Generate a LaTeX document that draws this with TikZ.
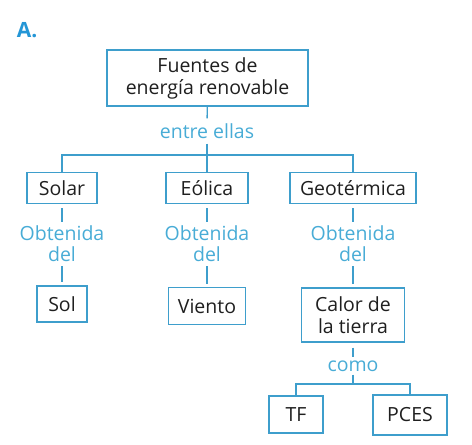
\documentclass[tikz,border=0pt]{standalone}
\usepackage{fontspec}
\setmainfont{Open Sans}
\usetikzlibrary{positioning}
\definecolor{mapB}{RGB}{62,158,204}
\definecolor{mapT}{RGB}{72,172,214}
\definecolor{mapA}{RGB}{36,150,214}

\begin{document}
\begin{tikzpicture}[x=1pt,y=-1pt,
  caja/.style={draw=mapB,line width=1.3pt,inner sep=0pt,align=center,text=black!88,font=\fontsize{19.5}{22}\selectfont},
  enlace/.style={text=mapT,inner sep=4pt,align=center,font=\fontsize{19.5}{21}\selectfont},
  linea/.style={mapB,line width=1.3pt}]
\useasboundingbox (0,0) rectangle (472,445);
\node[text=mapA,inner sep=0pt,font=\bfseries\fontsize{21}{21}\selectfont] (titulo) at (27,30) {A.};
% top box and first split
\node[caja,minimum width=201,minimum height=56] (fuentes) at (207.5,78) {Fuentes de\\energía renovable};
\node[enlace,inner sep=5pt] (entre) at (207,131) {entre ellas};
\coordinate (jA) at (207,155);
\node[caja,minimum width=70,minimum height=31] (solar) at (62,188) {Solar};
\node[caja,minimum width=82,minimum height=31] (eolica) at (207,188) {Eólica};
\node[caja,minimum width=126,minimum height=31] (geo) at (353,188) {Geotérmica};
\draw[linea] (fuentes) -- (entre);
\draw[linea] (entre) -- (jA);
\draw[linea] (solar) |- (jA) -| (geo);
\draw[linea] (jA) -- (eolica);
% second level
\node[enlace] (obtA) at (62,244) {Obtenida\\del};
\node[enlace] (obtB) at (207,244) {Obtenida\\del};
\node[enlace] (obtC) at (353,244) {Obtenida\\del};
\node[caja,minimum width=50,minimum height=36] (sol) at (62,304) {Sol};
\node[caja,minimum width=77,minimum height=37] (viento) at (207,306) {Viento};
\node[caja,minimum width=103,minimum height=54] (calor) at (353,315) {Calor de\\la tierra};
\foreach \a/\b/\c in {solar/obtA/sol,eolica/obtB/viento,geo/obtC/calor}{
  \draw[linea,shorten <=4pt] (\a) -- (\b);
  \draw[linea,shorten >=3pt] (\b) -- (\c);
}
% last split
\node[enlace,inner sep=3pt] (como) at (353,366) {como};
\coordinate (jB) at (353,384);
\node[caja,minimum width=54,minimum height=37] (tf) at (296,414.5) {TF};
\node[caja,minimum width=74,minimum height=40] (pces) at (410,415) {PCES};
\draw[linea,shorten <=5pt] (calor) -- (como);
\draw[linea] (como) -- (jB);
\draw[linea] (tf) |- (jB) -| (pces);
\end{tikzpicture}
\end{document}
